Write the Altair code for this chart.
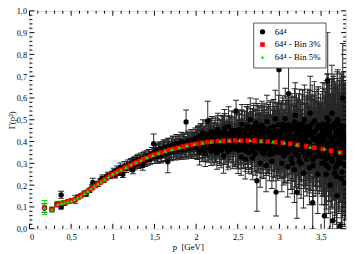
import altair as alt
import pandas as pd

# ---- black points: 64^4 (momentum p [GeV], Gamma(p^2), error) ----
P_A = [0.18, 0.27, 0.33, 0.38, 0.38, 0.42, 0.47, 0.51, 0.55, 0.58, 0.62, 0.66, 0.68, 0.72, 0.75, 0.76, 0.79, 0.82, 0.85, 0.87, 0.89, 0.92, 0.94, 0.97, 0.99]
G_A = [0.095, 0.088, 0.112, 0.155, 0.100, 0.118, 0.125, 0.130, 0.134, 0.145, 0.152, 0.163, 0.158, 0.176, 0.190, 0.212, 0.198, 0.206, 0.218, 0.232, 0.222, 0.236, 0.245, 0.240, 0.252]
E_A = [0.02, 0.01, 0.01, 0.017, 0.01, 0.01, 0.008, 0.008, 0.017, 0.01, 0.008, 0.01, 0.008, 0.01, 0.012, 0.02, 0.01, 0.012, 0.012, 0.015, 0.01, 0.012, 0.014, 0.01, 0.012]

P_B = [1.01, 1.03, 1.05, 1.07, 1.09, 1.1, 1.12, 1.14, 1.16, 1.18, 1.2, 1.22, 1.24, 1.26, 1.28, 1.3, 1.32, 1.34, 1.36, 1.38, 1.4, 1.43, 1.45, 1.47, 1.49]
G_B = [0.262, 0.245, 0.270, 0.258, 0.282, 0.266, 0.250, 0.288, 0.276, 0.295, 0.282, 0.300, 0.270, 0.310, 0.296, 0.318, 0.302, 0.322, 0.290, 0.330, 0.316, 0.338, 0.320, 0.345, 0.390]
E_B = [0.015, 0.012, 0.018, 0.014, 0.02, 0.016, 0.015, 0.02, 0.018, 0.02, 0.016, 0.022, 0.018, 0.022, 0.02, 0.024, 0.02, 0.025, 0.022, 0.025, 0.022, 0.026, 0.024, 0.028, 0.045]

P_C = [1.51, 1.52, 1.54, 1.55, 1.57, 1.58, 1.6, 1.61, 1.63, 1.64, 1.66, 1.67, 1.69, 1.7, 1.72, 1.73, 1.75, 1.76, 1.78, 1.79, 1.81, 1.82, 1.84, 1.85, 1.87, 1.88, 1.9, 1.91, 1.93, 1.94, 1.96, 1.97, 1.99, 2.0, 1.665]
G_C = [0.340, 0.360, 0.330, 0.352, 0.368, 0.338, 0.356, 0.372, 0.345, 0.362, 0.307, 0.378, 0.350, 0.366, 0.385, 0.356, 0.372, 0.392, 0.360, 0.380, 0.368, 0.398, 0.362, 0.386, 0.374, 0.490, 0.395, 0.370, 0.388, 0.405, 0.376, 0.392, 0.412, 0.385, 0.360]
E_C = [0.028, 0.03, 0.03, 0.032, 0.03, 0.033, 0.032, 0.035, 0.033, 0.035, 0.05, 0.036, 0.035, 0.037, 0.04, 0.038, 0.04, 0.04, 0.04, 0.042, 0.042, 0.045, 0.043, 0.045, 0.045, 0.055, 0.046, 0.046, 0.048, 0.05, 0.048, 0.05, 0.05, 0.05, 0.04]

P_D = [2.01, 2.02, 2.03, 2.04, 2.05, 2.06, 2.07, 2.08, 2.09, 2.1, 2.11, 2.12, 2.13, 2.14, 2.15, 2.16, 2.17, 2.18, 2.19, 2.2, 2.21, 2.22, 2.23, 2.24, 2.25, 2.26, 2.27, 2.28, 2.29, 2.3, 2.31, 2.32, 2.33, 2.34, 2.35, 2.36, 2.37, 2.38, 2.39, 2.4, 2.42, 2.44, 2.46, 2.48, 2.49]
G_D = [0.372, 0.410, 0.388, 0.352, 0.425, 0.398, 0.365, 0.440, 0.380, 0.405, 0.345, 0.420, 0.392, 0.495, 0.370, 0.430, 0.400, 0.355, 0.445, 0.385, 0.412, 0.362, 0.438, 0.395, 0.348, 0.455, 0.405, 0.378, 0.425, 0.360, 0.440, 0.398, 0.335, 0.462, 0.410, 0.380, 0.432, 0.355, 0.470, 0.400, 0.420, 0.365, 0.445, 0.540, 0.390]
E_D = [0.05, 0.055, 0.05, 0.06, 0.055, 0.06, 0.055, 0.06, 0.06, 0.065, 0.06, 0.065, 0.06, 0.09, 0.065, 0.065, 0.07, 0.065, 0.07, 0.07, 0.07, 0.07, 0.075, 0.07, 0.075, 0.075, 0.075, 0.08, 0.075, 0.08, 0.08, 0.08, 0.08, 0.085, 0.08, 0.085, 0.085, 0.085, 0.09, 0.09, 0.09, 0.09, 0.095, 0.05, 0.095]

P_E = [2.5, 2.51, 2.52, 2.53, 2.54, 2.55, 2.56, 2.57, 2.58, 2.59, 2.6, 2.61, 2.62, 2.63, 2.64, 2.65, 2.66, 2.67, 2.68, 2.69, 2.7, 2.71, 2.72, 2.73, 2.74, 2.75, 2.76, 2.77, 2.78, 2.79, 2.8, 2.81, 2.82, 2.83, 2.84, 2.85, 2.86, 2.87, 2.88, 2.89, 2.9, 2.91, 2.92, 2.93, 2.94, 2.95, 2.96, 2.97, 2.98, 2.99, 2.505, 2.625, 2.745, 2.865, 2.995]
G_E = [0.420, 0.360, 0.455, 0.395, 0.330, 0.480, 0.410, 0.372, 0.445, 0.318, 0.430, 0.390, 0.470, 0.350, 0.412, 0.500, 0.375, 0.438, 0.325, 0.460, 0.398, 0.345, 0.485, 0.220, 0.420, 0.368, 0.450, 0.300, 0.410, 0.475, 0.385, 0.345, 0.440, 0.405, 0.290, 0.492, 0.372, 0.425, 0.340, 0.462, 0.395, 0.310, 0.450, 0.418, 0.365, 0.505, 0.168, 0.432, 0.352, 0.478, 0.388, 0.402, 0.398, 0.385, 0.730]
E_E = [0.08, 0.085, 0.085, 0.09, 0.085, 0.09, 0.09, 0.09, 0.095, 0.09, 0.095, 0.095, 0.1, 0.095, 0.1, 0.1, 0.1, 0.1, 0.1, 0.105, 0.105, 0.1, 0.11, 0.14, 0.105, 0.11, 0.11, 0.11, 0.115, 0.11, 0.115, 0.115, 0.12, 0.115, 0.12, 0.12, 0.12, 0.125, 0.12, 0.125, 0.125, 0.125, 0.13, 0.125, 0.13, 0.13, 0.11, 0.13, 0.13, 0.135, 0.135, 0.13, 0.13, 0.13, 0.15]

P_F = [3.0, 3.01, 3.02, 3.03, 3.04, 3.05, 3.06, 3.07, 3.08, 3.09, 3.1, 3.11, 3.12, 3.13, 3.14, 3.15, 3.16, 3.17, 3.18, 3.19, 3.2, 3.21, 3.22, 3.23, 3.24, 3.25, 3.26, 3.27, 3.28, 3.29, 3.3, 3.31, 3.32, 3.33, 3.34, 3.35, 3.36, 3.37, 3.38, 3.39, 3.4, 3.41, 3.42, 3.43, 3.44, 3.45, 3.46, 3.47, 3.48, 3.49, 3.005, 3.055, 3.105, 3.155, 3.205, 3.255, 3.305, 3.355, 3.405, 3.455]
G_F = [0.350, 0.445, 0.395, 0.300, 0.480, 0.412, 0.340, 0.505, 0.372, 0.430, 0.285, 0.620, 0.455, 0.390, 0.320, 0.470, 0.360, 0.415, 0.270, 0.520, 0.398, 0.168, 0.440, 0.335, 0.480, 0.375, 0.300, 0.455, 0.410, 0.255, 0.500, 0.365, 0.425, 0.320, 0.470, 0.390, 0.280, 0.530, 0.355, 0.445, 0.120, 0.410, 0.495, 0.330, 0.375, 0.460, 0.250, 0.420, 0.350, 0.385, 0.410, 0.365, 0.440, 0.300, 0.470, 0.395, 0.345, 0.430, 0.290, 0.400]
E_F = [0.12, 0.13, 0.12, 0.13, 0.13, 0.13, 0.13, 0.14, 0.13, 0.14, 0.14, 0.2, 0.14, 0.14, 0.14, 0.15, 0.14, 0.15, 0.15, 0.15, 0.15, 0.12, 0.15, 0.15, 0.16, 0.15, 0.16, 0.16, 0.16, 0.16, 0.16, 0.16, 0.17, 0.17, 0.17, 0.17, 0.17, 0.17, 0.18, 0.17, 0.12, 0.18, 0.18, 0.18, 0.18, 0.18, 0.18, 0.18, 0.19, 0.19, 0.12, 0.13, 0.14, 0.14, 0.15, 0.15, 0.16, 0.17, 0.18, 0.18]

P_G = [3.5, 3.51, 3.52, 3.53, 3.54, 3.55, 3.56, 3.57, 3.58, 3.59, 3.6, 3.61, 3.62, 3.63, 3.64, 3.65, 3.66, 3.67, 3.68, 3.69, 3.7, 3.71, 3.72, 3.73, 3.74, 3.75, 3.76, 3.77, 3.78, 3.79, 3.505, 3.525, 3.545, 3.565, 3.585, 3.605, 3.625, 3.645, 3.665, 3.685, 3.705, 3.725, 3.745, 3.765, 3.785]
G_G = [0.420, 0.300, 0.480, 0.360, 0.060, 0.440, 0.250, 0.510, 0.680, 0.330, 0.460, 0.200, 0.400, 0.530, 0.037, 0.350, 0.470, 0.280, 0.420, 0.150, 0.500, 0.320, 0.390, 0.013, 0.450, 0.260, 0.600, 0.370, 0.210, 0.430, 0.380, 0.340, 0.410, 0.290, 0.450, 0.360, 0.310, 0.480, 0.390, 0.240, 0.430, 0.350, 0.470, 0.300, 0.400]
E_G = [0.18, 0.19, 0.19, 0.19, 0.1, 0.2, 0.2, 0.2, 0.22, 0.2, 0.21, 0.2, 0.21, 0.22, 0.04, 0.22, 0.22, 0.22, 0.23, 0.15, 0.23, 0.23, 0.23, 0.015, 0.24, 0.24, 0.25, 0.24, 0.2, 0.25, 0.19, 0.19, 0.2, 0.2, 0.21, 0.21, 0.21, 0.22, 0.22, 0.22, 0.23, 0.23, 0.24, 0.24, 0.25]

# denser core of the 64^4 cloud
P_H1 = [1.505, 1.53, 1.555, 1.58, 1.605, 1.63, 1.655, 1.68, 1.705, 1.73, 1.755, 1.78, 1.805, 1.83, 1.855, 1.88, 1.905, 1.93, 1.955, 1.98]
G_H1 = [0.352, 0.332, 0.360, 0.342, 0.366, 0.348, 0.372, 0.352, 0.378, 0.356, 0.382, 0.362, 0.386, 0.368, 0.392, 0.372, 0.396, 0.376, 0.398, 0.380]
E_H1 = [0.03, 0.032, 0.032, 0.034, 0.034, 0.035, 0.036, 0.037, 0.038, 0.038, 0.04, 0.04, 0.041, 0.042, 0.043, 0.044, 0.045, 0.045, 0.046, 0.047]

P_H2 = [2.005, 2.015, 2.025, 2.035, 2.045, 2.06, 2.075, 2.09, 2.105, 2.12, 2.135, 2.15, 2.165, 2.18, 2.195, 2.21, 2.225, 2.24, 2.255, 2.27, 2.285, 2.3, 2.315, 2.33, 2.345, 2.36, 2.375, 2.39, 2.405, 2.42, 2.435, 2.45, 2.465, 2.475, 2.495]
G_H2 = [0.405, 0.370, 0.418, 0.380, 0.395, 0.425, 0.365, 0.410, 0.388, 0.432, 0.372, 0.415, 0.392, 0.440, 0.368, 0.420, 0.398, 0.378, 0.435, 0.405, 0.362, 0.425, 0.390, 0.445, 0.372, 0.415, 0.398, 0.360, 0.438, 0.385, 0.422, 0.375, 0.450, 0.395, 0.365]
E_H2 = [0.05, 0.052, 0.055, 0.055, 0.056, 0.058, 0.058, 0.06, 0.06, 0.062, 0.062, 0.064, 0.064, 0.066, 0.066, 0.068, 0.068, 0.07, 0.07, 0.072, 0.072, 0.074, 0.074, 0.076, 0.076, 0.078, 0.078, 0.08, 0.08, 0.082, 0.082, 0.084, 0.084, 0.086, 0.086]

P_H3 = [2.502, 2.515, 2.527, 2.54, 2.552, 2.565, 2.577, 2.59, 2.602, 2.615, 2.627, 2.64, 2.652, 2.665, 2.677, 2.69, 2.702, 2.715, 2.727, 2.74, 2.752, 2.765, 2.777, 2.79, 2.802, 2.815, 2.827, 2.84, 2.852, 2.865, 2.877, 2.89, 2.902, 2.915, 2.927, 2.94, 2.952, 2.965, 2.977, 2.99]
G_H3 = [0.385, 0.440, 0.405, 0.365, 0.450, 0.392, 0.425, 0.358, 0.415, 0.460, 0.380, 0.430, 0.398, 0.355, 0.445, 0.410, 0.372, 0.438, 0.395, 0.465, 0.368, 0.420, 0.400, 0.350, 0.452, 0.388, 0.428, 0.362, 0.440, 0.405, 0.375, 0.458, 0.392, 0.418, 0.345, 0.435, 0.400, 0.370, 0.448, 0.385]
E_H3 = [0.085, 0.088, 0.09, 0.09, 0.092, 0.094, 0.094, 0.096, 0.098, 0.098, 0.1, 0.1, 0.102, 0.104, 0.104, 0.106, 0.108, 0.108, 0.11, 0.11, 0.112, 0.112, 0.114, 0.114, 0.116, 0.116, 0.118, 0.118, 0.12, 0.12, 0.122, 0.122, 0.124, 0.124, 0.126, 0.126, 0.128, 0.128, 0.13, 0.13]

P_H4 = [3.002, 3.015, 3.027, 3.04, 3.052, 3.065, 3.077, 3.09, 3.102, 3.115, 3.127, 3.14, 3.152, 3.165, 3.177, 3.19, 3.202, 3.215, 3.227, 3.24, 3.252, 3.265, 3.277, 3.29, 3.302, 3.315, 3.327, 3.34, 3.352, 3.365, 3.377, 3.39, 3.402, 3.415, 3.427, 3.44, 3.452, 3.465, 3.477, 3.49]
G_H4 = [0.420, 0.360, 0.455, 0.395, 0.335, 0.440, 0.380, 0.470, 0.350, 0.412, 0.445, 0.325, 0.398, 0.462, 0.365, 0.425, 0.340, 0.450, 0.388, 0.310, 0.438, 0.372, 0.480, 0.355, 0.415, 0.330, 0.452, 0.395, 0.345, 0.468, 0.380, 0.425, 0.318, 0.440, 0.370, 0.408, 0.335, 0.475, 0.392, 0.350]
E_H4 = [0.13, 0.13, 0.132, 0.134, 0.134, 0.136, 0.138, 0.138, 0.14, 0.14, 0.142, 0.144, 0.144, 0.146, 0.148, 0.148, 0.15, 0.15, 0.152, 0.154, 0.154, 0.156, 0.158, 0.158, 0.16, 0.16, 0.162, 0.164, 0.164, 0.166, 0.168, 0.168, 0.17, 0.17, 0.172, 0.174, 0.174, 0.176, 0.178, 0.178]

P_H5 = [3.502, 3.512, 3.522, 3.532, 3.542, 3.552, 3.562, 3.572, 3.582, 3.592, 3.602, 3.612, 3.622, 3.632, 3.642, 3.652, 3.662, 3.672, 3.682, 3.692, 3.702, 3.712, 3.722, 3.732, 3.742, 3.752, 3.762, 3.772, 3.782, 3.792, 3.797, 3.757, 3.717, 3.677, 3.637]
G_H5 = [0.400, 0.330, 0.455, 0.370, 0.300, 0.430, 0.350, 0.480, 0.385, 0.280, 0.445, 0.360, 0.410, 0.320, 0.470, 0.375, 0.255, 0.425, 0.340, 0.490, 0.395, 0.300, 0.440, 0.360, 0.230, 0.415, 0.330, 0.470, 0.380, 0.290, 0.350, 0.420, 0.310, 0.455, 0.390]
E_H5 = [0.18, 0.18, 0.19, 0.19, 0.19, 0.2, 0.2, 0.2, 0.2, 0.21, 0.21, 0.21, 0.21, 0.22, 0.22, 0.22, 0.22, 0.22, 0.23, 0.23, 0.23, 0.23, 0.24, 0.24, 0.24, 0.24, 0.25, 0.25, 0.25, 0.25, 0.25, 0.24, 0.23, 0.22, 0.21]

P_I1 = [1.21, 1.23, 1.25, 1.27, 1.29, 1.31, 1.33, 1.35, 1.37, 1.39, 1.41, 1.42, 1.44, 1.46, 1.48]
G_I1 = [0.298, 0.286, 0.305, 0.292, 0.312, 0.300, 0.318, 0.306, 0.325, 0.312, 0.332, 0.318, 0.336, 0.326, 0.343]
E_I1 = [0.02, 0.022, 0.022, 0.022, 0.024, 0.024, 0.024, 0.025, 0.025, 0.026, 0.026, 0.027, 0.027, 0.028, 0.028]

P_I2 = [1.502, 1.522, 1.542, 1.562, 1.582, 1.602, 1.622, 1.642, 1.662, 1.682, 1.702, 1.722, 1.742, 1.762, 1.782, 1.802, 1.822, 1.842, 1.862, 1.882, 1.902, 1.922, 1.942, 1.962, 1.982]
G_I2 = [0.330, 0.355, 0.342, 0.365, 0.336, 0.358, 0.372, 0.344, 0.378, 0.360, 0.350, 0.384, 0.368, 0.356, 0.390, 0.372, 0.362, 0.396, 0.378, 0.366, 0.402, 0.384, 0.370, 0.405, 0.388]
E_I2 = [0.03, 0.031, 0.032, 0.033, 0.034, 0.034, 0.035, 0.036, 0.037, 0.038, 0.038, 0.039, 0.04, 0.041, 0.042, 0.042, 0.043, 0.044, 0.045, 0.046, 0.046, 0.047, 0.048, 0.049, 0.05]

P_I3 = [2.008, 2.022, 2.036, 2.05, 2.064, 2.078, 2.092, 2.106, 2.12, 2.134, 2.148, 2.162, 2.176, 2.19, 2.204, 2.218, 2.232, 2.246, 2.26, 2.274, 2.288, 2.302, 2.316, 2.33, 2.344, 2.358, 2.372, 2.386, 2.4, 2.414, 2.428, 2.442, 2.456, 2.47, 2.484]
G_I3 = [0.392, 0.415, 0.378, 0.402, 0.425, 0.385, 0.410, 0.372, 0.432, 0.398, 0.418, 0.382, 0.440, 0.405, 0.390, 0.428, 0.375, 0.412, 0.445, 0.395, 0.420, 0.380, 0.435, 0.402, 0.448, 0.388, 0.415, 0.372, 0.430, 0.405, 0.452, 0.392, 0.422, 0.378, 0.440]
E_I3 = [0.052, 0.054, 0.055, 0.056, 0.057, 0.058, 0.06, 0.061, 0.062, 0.063, 0.064, 0.066, 0.067, 0.068, 0.069, 0.07, 0.072, 0.073, 0.074, 0.075, 0.076, 0.078, 0.079, 0.08, 0.081, 0.082, 0.084, 0.085, 0.086, 0.087, 0.088, 0.09, 0.091, 0.092, 0.093]

P_I4 = [2.506, 2.518, 2.531, 2.543, 2.556, 2.568, 2.581, 2.593, 2.606, 2.618, 2.631, 2.643, 2.656, 2.668, 2.681, 2.693, 2.706, 2.718, 2.731, 2.743, 2.756, 2.768, 2.781, 2.793, 2.806, 2.818, 2.831, 2.843, 2.856, 2.868, 2.881, 2.893, 2.906, 2.918, 2.931, 2.943, 2.956, 2.968, 2.981, 2.993]
G_I4 = [0.405, 0.432, 0.385, 0.452, 0.410, 0.372, 0.440, 0.398, 0.462, 0.380, 0.425, 0.405, 0.448, 0.365, 0.418, 0.470, 0.392, 0.435, 0.375, 0.455, 0.410, 0.388, 0.442, 0.368, 0.428, 0.460, 0.395, 0.415, 0.378, 0.450, 0.402, 0.438, 0.362, 0.425, 0.468, 0.390, 0.412, 0.445, 0.372, 0.430]
E_I4 = [0.09, 0.092, 0.093, 0.094, 0.095, 0.096, 0.097, 0.098, 0.099, 0.1, 0.101, 0.102, 0.103, 0.104, 0.105, 0.106, 0.107, 0.108, 0.109, 0.11, 0.111, 0.112, 0.113, 0.114, 0.115, 0.116, 0.117, 0.118, 0.119, 0.12, 0.121, 0.122, 0.123, 0.124, 0.125, 0.126, 0.127, 0.128, 0.129, 0.13]

P_I5 = [3.006, 3.018, 3.031, 3.043, 3.056, 3.068, 3.081, 3.093, 3.106, 3.118, 3.131, 3.143, 3.156, 3.168, 3.181, 3.193, 3.206, 3.218, 3.231, 3.243, 3.256, 3.268, 3.281, 3.293, 3.306, 3.318, 3.331, 3.343, 3.356, 3.368, 3.381, 3.393, 3.406, 3.418, 3.431, 3.443, 3.456, 3.468, 3.481, 3.493]
G_I5 = [0.398, 0.438, 0.372, 0.465, 0.410, 0.352, 0.448, 0.392, 0.478, 0.365, 0.425, 0.455, 0.378, 0.412, 0.490, 0.345, 0.435, 0.400, 0.462, 0.362, 0.420, 0.385, 0.472, 0.350, 0.440, 0.405, 0.368, 0.455, 0.395, 0.338, 0.430, 0.482, 0.375, 0.415, 0.448, 0.358, 0.402, 0.465, 0.382, 0.428]
E_I5 = [0.13, 0.132, 0.134, 0.135, 0.136, 0.138, 0.14, 0.141, 0.142, 0.144, 0.146, 0.147, 0.148, 0.15, 0.152, 0.153, 0.154, 0.156, 0.158, 0.159, 0.16, 0.162, 0.164, 0.165, 0.166, 0.168, 0.17, 0.171, 0.172, 0.174, 0.176, 0.177, 0.178, 0.18, 0.182, 0.183, 0.184, 0.186, 0.188, 0.19]

P_I6 = [3.506, 3.516, 3.526, 3.536, 3.546, 3.556, 3.566, 3.576, 3.586, 3.596, 3.606, 3.616, 3.626, 3.636, 3.646, 3.656, 3.666, 3.676, 3.686, 3.696, 3.706, 3.716, 3.726, 3.736, 3.746, 3.756, 3.766, 3.776, 3.786, 3.796]
G_I6 = [0.385, 0.440, 0.350, 0.470, 0.405, 0.320, 0.455, 0.380, 0.500, 0.345, 0.425, 0.395, 0.465, 0.310, 0.415, 0.480, 0.365, 0.435, 0.290, 0.450, 0.400, 0.340, 0.475, 0.375, 0.420, 0.300, 0.445, 0.360, 0.410, 0.330]
E_I6 = [0.19, 0.19, 0.2, 0.2, 0.2, 0.21, 0.21, 0.21, 0.21, 0.22, 0.22, 0.22, 0.22, 0.22, 0.23, 0.23, 0.23, 0.23, 0.24, 0.24, 0.24, 0.24, 0.24, 0.25, 0.25, 0.25, 0.25, 0.25, 0.26, 0.26]

# ---- binned 3% (red squares) ----
P_BIN3 = [0.18, 0.27, 0.33, 0.37, 0.40, 0.43, 0.46, 0.49, 0.52, 0.55, 0.58, 0.61, 0.64, 0.67, 0.70, 0.73, 0.76, 0.79, 0.82, 0.85, 0.88, 0.91, 0.94, 0.97, 1.00, 1.03, 1.07, 1.10, 1.14, 1.17, 1.21, 1.25, 1.28, 1.32, 1.36, 1.40, 1.45, 1.49, 1.54, 1.58, 1.63, 1.68, 1.73, 1.78, 1.84, 1.89, 1.95, 2.01, 2.07, 2.13, 2.19, 2.26, 2.33, 2.40, 2.47, 2.54, 2.62, 2.70, 2.78, 2.86, 2.95, 3.04, 3.13, 3.22, 3.32, 3.42, 3.52, 3.62, 3.73]
G_BIN3 = [0.097, 0.088, 0.110, 0.115, 0.118, 0.121, 0.124, 0.127, 0.130, 0.135, 0.141, 0.148, 0.157, 0.164, 0.172, 0.181, 0.190, 0.197, 0.205, 0.212, 0.220, 0.228, 0.235, 0.243, 0.250, 0.256, 0.264, 0.270, 0.278, 0.284, 0.292, 0.299, 0.304, 0.311, 0.318, 0.325, 0.333, 0.339, 0.345, 0.350, 0.356, 0.362, 0.367, 0.371, 0.377, 0.381, 0.386, 0.390, 0.394, 0.397, 0.400, 0.402, 0.403, 0.404, 0.405, 0.405, 0.405, 0.404, 0.402, 0.400, 0.397, 0.394, 0.390, 0.385, 0.379, 0.372, 0.366, 0.358, 0.350]

# ---- binned 5% (green triangles) ----
P_BIN5 = [0.18, 0.27, 0.34, 0.38, 0.42, 0.46, 0.50, 0.54, 0.58, 0.62, 0.66, 0.70, 0.74, 0.78, 0.82, 0.86, 0.90, 0.95, 1.00, 1.05, 1.10, 1.16, 1.22, 1.28, 1.34, 1.41, 1.48, 1.55, 1.63, 1.71, 1.80, 1.89, 1.98, 2.08, 2.18, 2.29, 2.40, 2.52, 2.65, 2.78, 2.92, 3.06, 3.21, 3.37, 3.54, 3.72]
G_BIN5 = [0.097, 0.088, 0.112, 0.116, 0.120, 0.124, 0.128, 0.133, 0.141, 0.150, 0.162, 0.172, 0.184, 0.195, 0.205, 0.215, 0.225, 0.238, 0.250, 0.260, 0.270, 0.282, 0.294, 0.304, 0.315, 0.327, 0.337, 0.347, 0.356, 0.364, 0.373, 0.381, 0.388, 0.394, 0.399, 0.402, 0.404, 0.405, 0.405, 0.402, 0.399, 0.394, 0.386, 0.375, 0.366, 0.351]
E_BIN5 = [0.032, 0.010, 0.014, 0.010, 0.008, 0.007, 0.006, 0.006, 0.006, 0.006, 0.006, 0.006, 0.005, 0.006, 0.005, 0.006, 0.005, 0.006, 0.005, 0.006, 0.005, 0.006, 0.005, 0.006, 0.005, 0.006, 0.005, 0.006, 0.005, 0.006, 0.005, 0.006, 0.005, 0.006, 0.005, 0.006, 0.005, 0.006, 0.005, 0.006, 0.005, 0.006, 0.005, 0.006, 0.005, 0.006]

SERIES = ["64\u2074", "64\u2074 - Bin 3%", "64\u2074 - Bin 5%"]

# ticks
X_MAJOR = [0, 0.5, 1.0, 1.5, 2.0, 2.5, 3.0, 3.5]
X_MINOR = [i / 10 for i in range(1, 38) if i % 5]
Y_MAJOR = [i / 10 for i in range(0, 11)]
Y_MINOR = [i / 50 for i in range(1, 50) if i % 5]

W, H = 324, 223
FONT = "Liberation Serif"

P = P_A + P_B + P_C + P_D + P_E + P_F + P_G + P_H1 + P_H2 + P_H3 + P_H4 + P_H5 + P_I1 + P_I2 + P_I3 + P_I4 + P_I5 + P_I6
G = G_A + G_B + G_C + G_D + G_E + G_F + G_G + G_H1 + G_H2 + G_H3 + G_H4 + G_H5 + G_I1 + G_I2 + G_I3 + G_I4 + G_I5 + G_I6
E = E_A + E_B + E_C + E_D + E_E + E_F + E_G + E_H1 + E_H2 + E_H3 + E_H4 + E_H5 + E_I1 + E_I2 + E_I3 + E_I4 + E_I5 + E_I6
assert len(P) == len(G) == len(E)
assert len(P_BIN3) == len(G_BIN3)
assert len(P_BIN5) == len(G_BIN5) == len(E_BIN5)

black = pd.DataFrame({"p": P, "g": G, "e": E})
black["lo"] = black["g"] - black["e"]
black["hi"] = black["g"] + black["e"]

green = pd.DataFrame({"p": P_BIN5, "g": G_BIN5, "e": E_BIN5})
green["lo"] = green["g"] - green["e"]
green["hi"] = green["g"] + green["e"]

pts = pd.concat([
    pd.DataFrame({"p": P, "g": G, "s": SERIES[0]}),
    pd.DataFrame({"p": P_BIN3, "g": G_BIN3, "s": SERIES[1]}),
    pd.DataFrame({"p": P_BIN5, "g": G_BIN5, "s": SERIES[2]}),
], ignore_index=True)

xs = alt.Scale(domain=[0, 3.8], nice=False, zero=False)
ys = alt.Scale(domain=[0, 1], nice=False, zero=False)

x_axis = alt.Axis(values=X_MAJOR, labelExpr="replace(toString(datum.value), '.', ',')",
                  title="p\u00a0 [GeV]", domain=False, ticks=False, grid=False,
                  labelPadding=4, titlePadding=2, labelFont=FONT, labelFontSize=8.5,
                  titleFont=FONT, titleFontSize=9, titleFontWeight="normal",
                  labelColor="black", titleColor="black")
y_axis = alt.Axis(values=Y_MAJOR, labelExpr="replace(format(datum.value, '.1f'), '.', ',')",
                  title="\u0393(p\u00b2)", domain=False, ticks=False, grid=False,
                  labelPadding=3, labelFont=FONT, labelFontSize=8.5,
                  titleFont=FONT, titleFontSize=9, titleFontWeight="normal",
                  titleX=-13, titleY=H / 2, titleAngle=270, titleAlign="center",
                  titleBaseline="bottom",
                  labelColor="black", titleColor="black")

def X(field):
    return alt.X(field, scale=xs, axis=x_axis)

def Y(field):
    return alt.Y(field, scale=ys, axis=y_axis)

BAR = "#262626"
GREEN = "#00ee00"

bars = alt.Chart(black).mark_rule(color=BAR, strokeWidth=1, clip=True).encode(
    x=X("p:Q"), y=Y("lo:Q"), y2="hi:Q")
cap_lo = alt.Chart(black).mark_tick(orient="horizontal", size=6, thickness=1, color=BAR, clip=True, opacity=1).encode(
    x=X("p:Q"), y=Y("lo:Q"))
cap_hi = alt.Chart(black).mark_tick(orient="horizontal", size=6, thickness=1, color=BAR, clip=True, opacity=1).encode(
    x=X("p:Q"), y=Y("hi:Q"))

gbars = alt.Chart(green).mark_rule(color=GREEN, strokeWidth=1, clip=True).encode(
    x=X("p:Q"), y=Y("lo:Q"), y2="hi:Q")
gcap_lo = alt.Chart(green).mark_tick(orient="horizontal", size=6, thickness=1, color=GREEN, clip=True, opacity=1).encode(
    x=X("p:Q"), y=Y("lo:Q"))
gcap_hi = alt.Chart(green).mark_tick(orient="horizontal", size=6, thickness=1, color=GREEN, clip=True, opacity=1).encode(
    x=X("p:Q"), y=Y("hi:Q"))

leg = alt.Legend(title=None, orient="none", legendX=229, legendY=12, padding=5,
                 fillColor="white", strokeColor="#555", labelFont=FONT, labelFontSize=9,
                 labelColor="black", rowPadding=3, labelOffset=8, symbolStrokeWidth=0)

points = alt.Chart(pts).mark_point(filled=True, opacity=1, clip=True, strokeWidth=0).encode(
    x=X("p:Q"),
    y=Y("g:Q"),
    color=alt.Color("s:N", scale=alt.Scale(domain=SERIES, range=["#000000", "#ff0000", GREEN]), legend=leg),
    shape=alt.Shape("s:N", scale=alt.Scale(domain=SERIES, range=["circle", "square", "triangle-up"]), legend=leg),
    size=alt.Size("s:N", scale=alt.Scale(domain=SERIES, range=[30, 15, 32]), legend=leg),
)

def xticks(vals, ln):
    d = pd.DataFrame({"t": vals})
    bot = alt.Chart(d).mark_rule(color="black", strokeWidth=1).encode(
        x=X("t:Q"), y=alt.value(H), y2=alt.value(H - ln))
    top = alt.Chart(d).mark_rule(color="black", strokeWidth=1).encode(
        x=X("t:Q"), y=alt.value(0), y2=alt.value(ln))
    return [bot, top]

def yticks(vals, ln):
    d = pd.DataFrame({"t": vals})
    left = alt.Chart(d).mark_rule(color="black", strokeWidth=1).encode(
        y=Y("t:Q"), x=alt.value(0), x2=alt.value(ln))
    right = alt.Chart(d).mark_rule(color="black", strokeWidth=1).encode(
        y=Y("t:Q"), x=alt.value(W), x2=alt.value(W - ln))
    return [left, right]

layers = [bars, cap_lo, cap_hi, gbars, gcap_lo, gcap_hi, points]
layers += xticks(X_MAJOR, 5) + xticks(X_MINOR, 3) + yticks(Y_MAJOR, 5) + yticks(Y_MINOR, 3)

chart = alt.layer(*layers).properties(
    width=W, height=H,
    autosize=alt.AutoSizeParams(type="none"),
    padding={"left": 22, "top": 0, "right": 2, "bottom": 23},
).configure_view(stroke="black", strokeWidth=1).configure(background="white")

chart.save("out.html", embed_options={"renderer": "svg", "actions": False})
